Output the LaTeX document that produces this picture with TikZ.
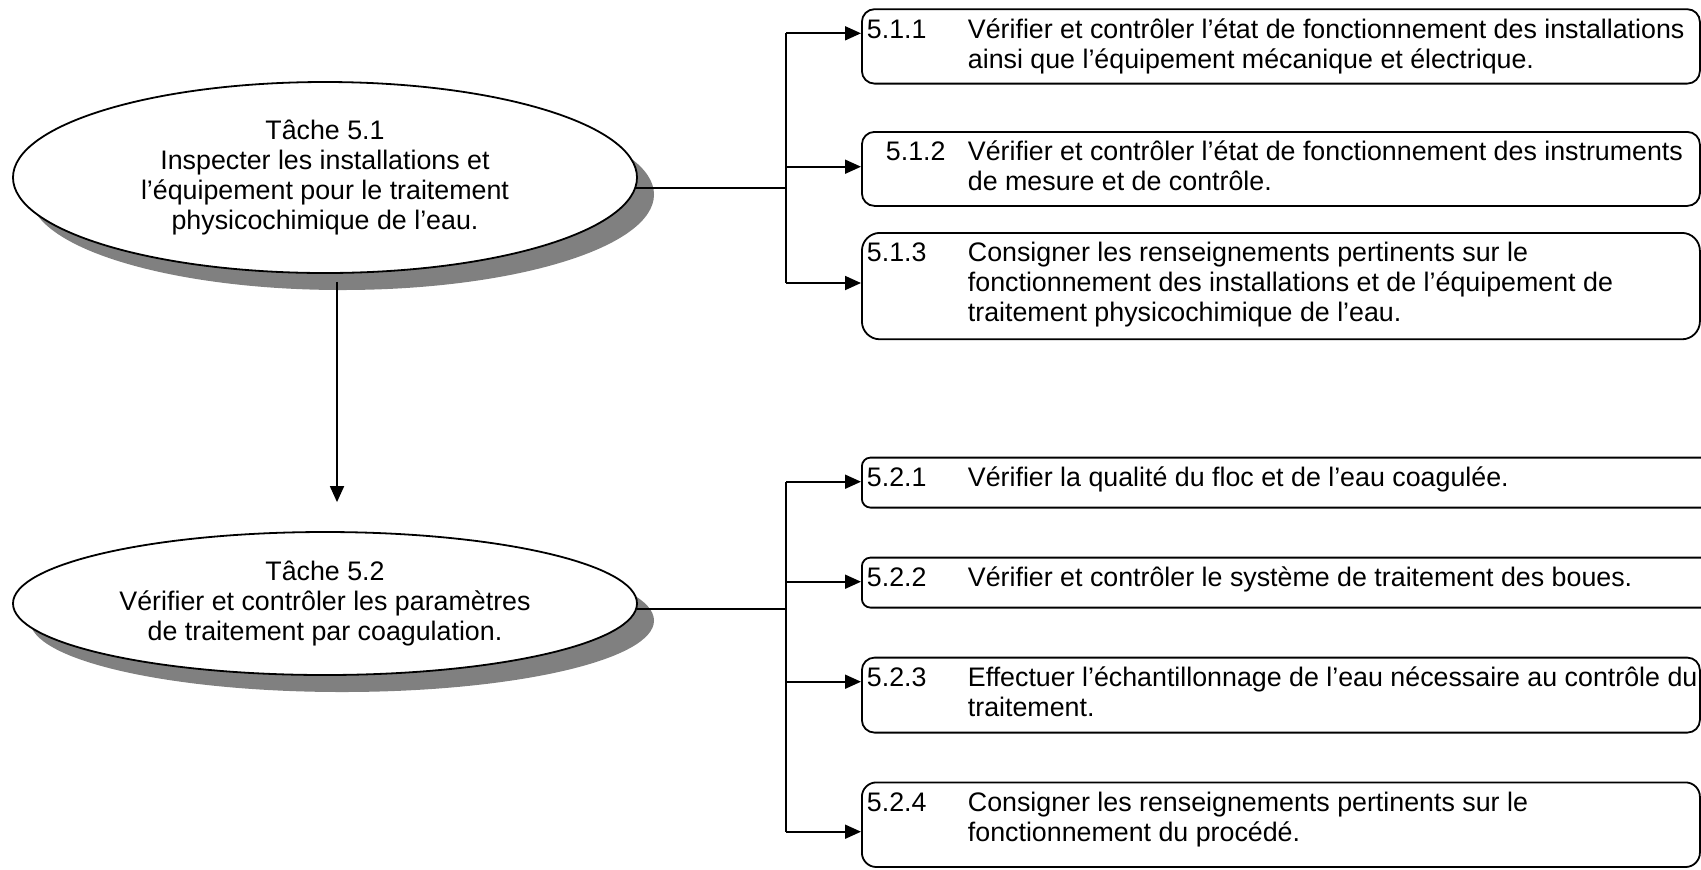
\documentclass[tikz,border=0pt]{standalone}
\usepackage{fontspec}
\setmainfont{Liberation Sans}
\usepackage{tikz}
\usetikzlibrary{shapes,positioning,calc,shadows,arrows.meta}
\definecolor{shadowgray}{RGB}{128,128,128}
\newcommand{\firstline}{\rule{0pt}{14.5pt}}

\begin{document}
\begin{tikzpicture}[x=0.5pt,y=-0.5pt,line width=0.9pt,
    font=\fontsize{13.4}{15}\selectfont,
    taskell/.style={ellipse, draw, fill=white, inner sep=0pt, align=center,
        minimum width=312pt,
        drop shadow={shadow xshift=8.5pt, shadow yshift=-8.5pt, fill=shadowgray, opacity=1}},
    stepbox/.style={rectangle, draw, anchor=north west, inner sep=0pt},
    steptxt/.style={anchor=north west, inner sep=0pt, align=left},
    arr/.style={-{Triangle[length=8pt,width=7pt]}}]
    \useasboundingbox (0,0) rectangle (1701,869);

    \node[taskell, minimum height=95.5pt] (e1) at (325,177.5)
        {Tâche 5.1\\Inspecter les installations et\\l’équipement pour le traitement\\physicochimique de l’eau.};
    \node[taskell, minimum height=71.5pt] (e2) at (325,603.5)
        {Tâche 5.2\\Vérifier et contrôler les paramètres\\de traitement par coagulation.};

    \foreach \nm/\y/\h/\w/\r/\ay/\dx/\num/\txt in {
        s11/8.3/37.2pt/419pt/6.3pt/33.3/2.5pt/5.1.1/{Vérifier et contrôler l’état de fonctionnement des installations\\ainsi que l’équipement mécanique et électrique.},
        s12/131/37pt/419pt/6.3pt/166.7/12pt/5.1.2/{Vérifier et contrôler l’état de fonctionnement des instruments\\de mesure et de contrôle.},
        s13/232/53.2pt/419pt/9pt/283/2.5pt/5.1.3/{Consigner les renseignements pertinents sur le\\fonctionnement des installations et de l’équipement de\\traitement physicochimique de l’eau.},
        s21/456.7/25pt/430pt/4.3pt/481.7/2.5pt/5.2.1/{Vérifier la qualité du floc et de l’eau coagulée.},
        s22/556.7/25pt/430pt/4.3pt/581.7/2.5pt/5.2.2/{Vérifier et contrôler le système de traitement des boues.},
        s23/656.7/37.5pt/419pt/6.3pt/681.7/2.5pt/5.2.3/{Effectuer l’échantillonnage de l’eau nécessaire au contrôle du\\traitement.},
        s24/781.5/42.3pt/419pt/7.2pt/831.7/2.5pt/5.2.4/{Consigner les renseignements pertinents sur le\\fonctionnement du procédé.}} {
        \node[stepbox, minimum width=\w, minimum height=\h, rounded corners=\r] (\nm) at (861,\y) {};
        \node[steptxt] (\nm n) at ([xshift=\dx]\nm.north west) {\firstline\num};
        \node[steptxt] (\nm t) at ([xshift=53pt]\nm.north west) {\firstline\txt};
        \coordinate (j\nm) at (786,\ay);
        \draw[arr] (j\nm) -- (j\nm -| \nm.west);
    }

    \draw (e1.-2.6) -- (e1.-2.6 -| js11);
    \draw (js11) -- (js13);
    \draw (e2.-1.6) -- (e2.-1.6 -| js21);
    \draw (js21) -- (js24);

    \draw[arr] ([xshift=6pt,yshift=-4pt]e1.south) -- ([xshift=6pt,yshift=14.5pt]e2.north);
\end{tikzpicture}
\end{document}
